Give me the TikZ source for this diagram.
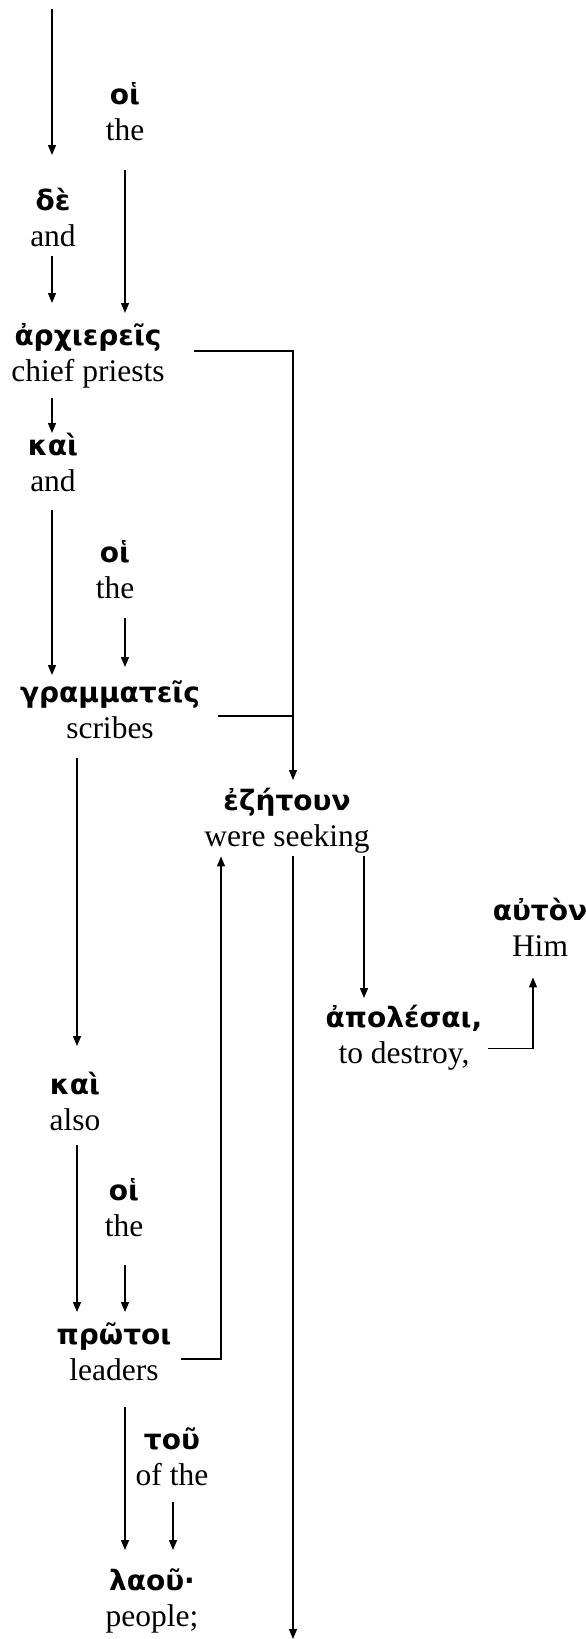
\documentclass[tikz,border=0pt]{standalone}
\usepackage{fontspec}
\setmainfont{Liberation Serif}
\newfontfamily\grk{DejaVu Sans}[BoldFont={DejaVu Sans Bold}]
\usetikzlibrary{arrows.meta}
\newcommand\gw[1]{{\grk\bfseries\fontsize{28}{36}\selectfont\rule{0pt}{22pt}#1}}
\newcommand\ew[1]{#1\rule[-10pt]{0pt}{10pt}}
\tikzset{
  w/.style={align=center, inner sep=0pt, outer sep=0pt, anchor=north,
            font=\fontsize{31.5}{36}\selectfont},
  conn/.style={line width=1.3pt},
  arr/.style={conn, -{Triangle[length=10pt,width=8pt]}},
}
\begin{document}
\begin{tikzpicture}[x=1pt,y=-1pt]
\useasboundingbox (0,0) rectangle (586,1639);
% cut-off text above
\node[font=\fontsize{31.5}{36}\selectfont, anchor=base, inner sep=0pt] (pl) at (23,-11) {(};
\node[font=\fontsize{31.5}{36}\selectfont, anchor=base, inner sep=0pt] (pr) at (176,-11) {)};
\coordinate (topstart) at (52,9);
\coordinate (bus) at (293,0);
\coordinate (up) at (221,0);
\coordinate (bottom) at (293,1639);
% words
\node[w] (oiA)   at (125,82)   {\gw{οἱ}\\\ew{the}};
\node[w] (de)    at (53,188)   {\gw{δὲ}\\\ew{and}};
\node[w] (arch)  at (88,323)   {\gw{ἀρχιερεῖς}\\\ew{chief priests}};
\node[w] (kaiA)  at (53,433)   {\gw{καὶ}\\\ew{and}};
\node[w] (oiB)   at (115,540)  {\gw{οἱ}\\\ew{the}};
\node[w] (gram)  at (110,680)  {\gw{γραμματεῖς}\\\ew{scribes}};
\node[w] (ezet)  at (287,788)  {\gw{ἐζήτουν}\\\ew{were seeking}};
\node[w] (auton) at (540,898)  {\gw{αὐτὸν}\\\ew{Him}};
\node[w] (apol)  at (404,1005) {\gw{ἀπολέσαι,}\\\ew{to destroy,}};
\node[w] (kaiB)  at (75,1072)  {\gw{καὶ}\\\ew{also}};
\node[w] (oiC)   at (124,1178) {\gw{οἱ}\\\ew{the}};
\node[w] (prot)  at (114,1322) {\gw{πρῶτοι}\\\ew{leaders}};
\node[w] (tou)   at (172,1427) {\gw{τοῦ}\\\ew{of the}};
\node[w] (laou)  at (152,1568) {\gw{λαοῦ·}\\\ew{people;}};
% connectors
\draw[arr, shorten >=33pt] (topstart) -- (topstart |- de.north);
\draw[arr, shorten <=20pt, shorten >=10pt] (oiA.south) -- (oiA.south |- arch.north);
\draw[arr, shorten >=20pt] ([xshift=-1pt]de.south) -- ([xshift=-1pt]de.south |- arch.north);
\draw[arr, shorten <=7pt] ([xshift=-1pt]kaiA.north |- arch.south) -- ([xshift=-1pt]kaiA.north);
\draw[arr, shorten <=9pt, shorten >=5pt] ([xshift=-1pt]kaiA.south) -- ([xshift=-1pt]kaiA.south |- gram.north);
\draw[arr, shorten <=10pt, shorten >=13pt] ([xshift=10pt]oiB.south) -- ([xshift=10pt]oiB.south |- gram.north);
\draw[arr, shorten <=29pt, shorten >=8pt] ([yshift=6pt]arch.east) -- ([yshift=6pt]arch.east -| bus) -- (bus |- ezet.north);
\draw[conn, shorten <=18pt] ([yshift=-2pt]gram.east) -- ([yshift=-2pt]gram.east -| bus);
\draw[arr, shorten <=10pt, shorten >=26pt] ([xshift=2pt]kaiB.north |- gram.south) -- ([xshift=2pt]kaiB.north);
\draw[arr] (bus |- ezet.south) -- (bottom);
\draw[arr, shorten >=7pt] ([xshift=-40pt]apol.north |- ezet.south) -- ([xshift=-40pt]apol.north);
\draw[arr, shorten <=10pt] ([yshift=-3pt]prot.east) -- ([yshift=-3pt]prot.east -| up) -- (up |- ezet.south);
\draw[arr, shorten <=6pt, shorten >=11pt] ([yshift=-9pt]apol.east) -- ([yshift=-9pt,xshift=-7pt]apol.east -| auton.south) -- ([xshift=-7pt]auton.south);
\draw[arr, shorten <=5pt, shorten >=10pt] ([xshift=2pt]kaiB.south) -- ([xshift=2pt]kaiB.south |- prot.north);
\draw[arr, shorten <=19pt, shorten >=10pt] ([xshift=1pt]oiC.south) -- ([xshift=1pt]oiC.south |- prot.north);
\draw[arr, shorten <=17pt, shorten >=18pt] ([xshift=11pt]prot.south) -- ([xshift=11pt]prot.south |- laou.north);
\draw[arr, shorten <=7pt, shorten >=18pt] ([xshift=1pt]tou.south) -- ([xshift=1pt]tou.south |- laou.north);
\end{tikzpicture}
\end{document}
